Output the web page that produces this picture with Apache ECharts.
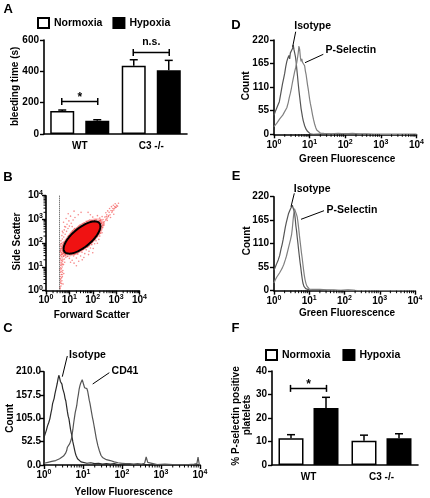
<!DOCTYPE html>
<html><head><meta charset="utf-8">
<script src="https://cdn.jsdelivr.net/npm/echarts@6/dist/echarts.min.js"></script>
<style>html,body{margin:0;padding:0;background:#fff}#c{width:430px;height:498px}</style>
</head><body><div id="c"></div>
<script>
const FONT = '"Liberation Sans", Arial, sans-serif';

// ---------- Panel A : bleeding time ----------
const groups = ['WT', 'C3 -/-'];
const bleedNormoxia = [147, 436];
const bleedNormoxiaSem = [6, 38];
const bleedHypoxia = [85, 407];
const bleedHypoxiaSem = [6, 63];
const bleedSig = [[0, 207, '*'], [1, 521, 'n.s.']];

// ---------- Panel F : % P-selectin positive platelets ----------
const pselNormoxia = [11.4, 10.3];
const pselNormoxiaSem = [1.5, 2.4];
const pselHypoxia = [24.3, 11.4];
const pselHypoxiaSem = [4.5, 1.9];
const pselSig = [[0, 32.6, '*']];

// ---------- Panel B : FSC / SSC (log10 decades) ----------
const bScatter = [
 [0.61,0.08],[0.64,0.2],[0.62,0.32],[0.68,0.42],[0.63,0.5],[0.7,0.6],[0.65,0.68],[0.62,0.78],[0.72,0.85],[0.66,0.92],
 [0.69,1.0],[0.63,1.06],[0.75,1.1],[0.67,1.18],[0.71,1.24],[0.64,1.3],[0.78,1.33],[0.69,1.38],[0.74,1.44],[0.62,1.48],
 [0.82,1.5],[0.7,1.54],[0.66,1.6],[0.77,1.62],[0.86,1.64],[0.63,1.68],[0.72,1.7],[0.81,1.74],[0.68,1.78],[0.9,1.76],
 [0.75,1.82],[0.64,1.86],[0.84,1.88],[0.7,1.92],[0.79,1.96],[0.66,2.0],[0.88,1.98],[0.73,2.04],[0.62,0.96],[0.67,0.55],
 [0.76,0.72],[0.8,1.2],[0.85,1.4],[0.92,1.58],[0.96,1.7],[0.6,1.2],[0.73,0.28],[0.66,1.44],
 [0.6,0.15],[0.63,0.38],[0.61,0.6],[0.65,0.82],[0.6,0.88],[0.64,1.12],[0.61,1.36],[0.65,1.52],[0.6,1.64],[0.63,1.76],
 [0.61,1.92],[0.67,0.3],[0.7,0.78],[0.68,1.08],[0.72,1.3],[0.74,1.58],[0.7,1.84],[0.78,1.9],[0.83,2.02],[0.76,1.46],
 [0.69,0.68],[0.62,0.45],[0.66,1.26],[0.71,1.12],[0.64,1.98],
 [0.64,2.1],[0.7,2.18],[0.76,2.26],[0.68,2.32],[0.82,2.38],[0.73,2.44],[0.88,2.5],[0.78,2.56],[0.94,2.62],[0.84,2.68],
 [1.0,2.72],[0.9,2.8],[1.08,2.84],[0.75,2.88],[0.98,2.94],[1.16,2.98],[0.86,3.04],[1.24,3.08],[1.05,3.14],[1.38,3.2],
 [0.95,3.24],[1.5,3.3],[1.2,3.35],[0.8,2.7],[1.12,2.7],[0.7,2.5],
 [0.92,1.44],[1.0,1.36],[1.06,1.52],[1.12,1.28],[1.18,1.46],[1.24,1.6],[1.3,1.38],[1.36,1.54],[1.42,1.68],[1.48,1.46],
 [1.54,1.62],[1.6,1.76],[1.66,1.56],[1.72,1.72],[1.78,1.84],[1.84,1.66],[1.9,1.8],[1.96,1.94],[2.02,1.78],[2.08,1.98],
 [2.14,2.1],[1.2,1.16],[1.4,1.24],[1.62,1.4],[1.82,1.52],[2.0,1.6],[1.05,1.2],[1.3,1.05],[1.55,1.3],[0.98,1.62],
 [1.14,1.7],[2.2,2.0],[2.26,2.16],[2.3,2.3],
 [0.9,2.2],[0.97,2.32],[1.05,2.42],[1.14,2.52],[1.22,2.62],[1.4,2.72],[1.5,2.78],[1.6,2.84],[1.76,2.9],[1.96,2.92],
 [2.12,2.92],[2.22,2.8],[2.3,2.62],[2.28,2.4],[2.2,2.28],[2.1,2.18],[2.0,2.08],[1.9,2.0],[1.7,1.86],[1.55,1.72],
 [1.45,1.66],[1.35,1.6],[1.25,1.56],[1.08,1.58],[0.95,1.6],[0.86,1.7],[0.82,1.82],[0.83,1.96],[0.88,2.08],
 [2.2,2.4],[2.28,2.5],[2.36,2.6],[2.3,2.7],[2.42,2.66],[2.16,2.28],[2.4,2.44],[2.48,2.76],[2.34,2.42],[2.24,2.62],
 [2.2,2.86],[2.28,2.94],[2.36,2.84],[2.44,3.0],[2.5,2.9],[2.52,3.1],[2.58,3.02],[2.6,3.2],[2.66,3.12],[2.7,3.3],
 [2.74,3.2],[2.78,3.38],[2.82,3.3],[2.86,3.46],[2.9,3.4],[2.94,3.54],[2.98,3.5],[3.02,3.6],[3.06,3.56],[3.1,3.68],
 [2.4,3.12],[2.3,3.06],[2.56,3.28],[2.64,3.36],[2.72,3.46],[2.8,3.54],[2.88,3.6],[2.96,3.66],[2.48,2.82],[2.62,2.96],
 [2.76,3.08],[2.9,3.22],[2.14,3.0],[2.2,3.16],[2.0,3.1],[1.9,3.2],[2.08,2.96],[1.8,3.3],
 [2.45,2.88],[2.55,2.98],[2.68,3.16],[2.84,3.36],[3.0,3.52],[2.58,3.12],[2.35,2.98],[2.42,2.76],[2.62,3.06],[2.92,3.46],
 [2.35,2.9],[2.38,2.84],[2.32,2.96],[2.26,2.92],[1.92,2.96],[1.86,2.98],[1.98,2.94],[1.8,2.94],[2.05,2.95],
 [1.24,2.6],[1.3,2.64],[1.18,2.56],[1.36,2.68],[1.12,2.5],[1.45,2.76],[1.55,2.82],[1.65,2.86],[1.72,2.92],
 [0.8,2.06],[0.76,2.0],[0.86,2.14],[0.94,2.28],[1.02,2.38],[1.08,2.46],[0.78,1.92],
 [0.75,1.6],[0.72,1.66],[0.76,1.74],[0.8,1.56],[0.84,1.52],
 [1.16,1.54],[1.22,1.52],[1.1,1.56],[1.3,1.56],[1.0,1.56],[1.4,1.62],[1.5,1.7],
 [1.8,1.86],[1.86,1.9],[1.74,1.84],[1.92,1.98],[1.68,1.8],[1.6,1.76],[1.98,2.04],
 [2.3,2.46],[2.24,2.36],[2.34,2.54],[2.14,2.24],[2.06,2.14],[2.38,2.7]
];
const gateCenter = [1.54, 2.24];     // decades (FSC, SSC)
const gateSemiAxes = [0.96, 0.40];   // decades
const gateAngleDeg = 39;
const fscThreshold = 0.57;           // decades

// ---------- Panel C : Yellow fluorescence histogram ([decade, count]) ----------
const cIsotype = [[0,62],[0.03,70],[0.06,78],[0.09,88],[0.12,95],[0.15,104],[0.18,118],[0.2,126],[0.22,138],[0.24,134],[0.26,150],[0.28,160],[0.3,168],[0.32,176],[0.34,184],[0.36,194],[0.38,202],[0.4,196],[0.42,188],[0.44,192],[0.46,182],[0.48,172],[0.5,176],[0.52,160],[0.54,150],[0.56,144],[0.58,132],[0.6,120],[0.62,110],[0.64,104],[0.66,92],[0.68,80],[0.7,72],[0.72,62],[0.74,52],[0.76,44],[0.78,36],[0.8,28],[0.82,22],[0.84,18],[0.86,14],[0.9,10],[0.95,7],[1.0,6],[1.1,4],[1.2,5],[1.3,3],[1.4,4],[1.5,2],[1.6,3],[1.7,2],[1.8,3],[1.9,1],[2.0,2],[2.2,1],[2.4,0],[2.6,1],[2.8,0],[3.0,0],[3.2,1],[3.5,0],[3.8,0],[4.0,0]];
const cCD41 = [[0,4],[0.1,6],[0.2,8],[0.3,10],[0.35,12],[0.4,14],[0.45,16],[0.5,20],[0.55,26],[0.58,32],[0.6,40],[0.62,36],[0.64,42],[0.66,48],[0.68,52],[0.7,58],[0.72,68],[0.74,80],[0.76,94],[0.78,106],[0.8,118],[0.82,126],[0.84,134],[0.86,148],[0.88,158],[0.9,170],[0.92,178],[0.94,184],[0.96,186],[0.98,192],[1.0,188],[1.02,180],[1.04,174],[1.06,178],[1.08,170],[1.1,172],[1.12,166],[1.14,156],[1.16,146],[1.18,138],[1.2,128],[1.22,118],[1.24,108],[1.26,100],[1.28,90],[1.3,80],[1.32,70],[1.34,60],[1.36,52],[1.38,44],[1.4,38],[1.42,32],[1.44,27],[1.46,22],[1.5,17],[1.55,14],[1.6,12],[1.7,10],[1.8,7],[1.9,5],[2.0,4],[2.1,3],[2.2,3],[2.3,2],[2.4,3],[2.5,2],[2.58,4],[2.62,18],[2.66,6],[2.7,2],[2.9,1],[3.1,2],[3.3,1],[3.5,1],[3.7,1],[3.85,2],[3.92,3],[3.95,18],[3.98,2],[4.0,0]];

// ---------- Panel D : Green fluorescence (hypoxia WT) ----------
const dIsotype = [[0,44],[0.03,52],[0.06,58],[0.09,62],[0.12,70],[0.15,76],[0.18,90],[0.21,104],[0.24,118],[0.27,130],[0.3,142],[0.33,158],[0.36,170],[0.39,178],[0.42,184],[0.44,176],[0.46,190],[0.48,194],[0.5,186],[0.52,200],[0.54,208],[0.56,198],[0.58,190],[0.6,182],[0.62,170],[0.64,152],[0.66,136],[0.68,118],[0.7,102],[0.72,88],[0.74,74],[0.76,60],[0.78,50],[0.8,40],[0.82,32],[0.84,26],[0.86,20],[0.9,12],[0.94,7],[0.98,3],[1.02,1],[1.1,0],[1.4,1],[1.7,0],[2.0,1],[2.3,0],[4.0,0]];
const dPSelectin = [[0,18],[0.04,22],[0.08,26],[0.12,30],[0.16,36],[0.2,40],[0.24,44],[0.28,50],[0.32,54],[0.36,62],[0.4,74],[0.43,86],[0.46,96],[0.49,108],[0.52,122],[0.55,134],[0.58,146],[0.61,156],[0.64,168],[0.66,178],[0.68,190],[0.7,206],[0.72,198],[0.74,180],[0.76,170],[0.78,176],[0.8,168],[0.82,172],[0.84,166],[0.86,160],[0.88,148],[0.9,140],[0.92,128],[0.94,116],[0.96,106],[0.98,94],[1.0,82],[1.02,72],[1.05,60],[1.08,46],[1.11,34],[1.14,24],[1.17,16],[1.2,10],[1.24,6],[1.3,3],[1.4,2],[1.6,1],[1.8,2],[2.0,1],[2.2,2],[2.4,1],[2.6,1],[2.8,0],[4.0,0]];

// ---------- Panel E : Green fluorescence (hypoxia C3 -/-) ----------
const eIsotype = [[0,48],[0.04,56],[0.08,64],[0.12,72],[0.16,82],[0.2,98],[0.23,108],[0.26,120],[0.29,134],[0.32,148],[0.35,160],[0.38,170],[0.41,180],[0.44,186],[0.47,192],[0.5,196],[0.52,200],[0.54,194],[0.56,198],[0.58,184],[0.6,170],[0.62,152],[0.64,140],[0.66,124],[0.68,110],[0.7,94],[0.72,80],[0.74,66],[0.76,54],[0.78,40],[0.8,28],[0.82,18],[0.85,10],[0.9,5],[0.95,3],[1.0,2],[1.2,1],[1.5,1],[1.8,0],[2.1,1],[2.4,0],[4.0,0]];
const ePSelectin = [[0,18],[0.04,26],[0.08,32],[0.12,36],[0.16,42],[0.2,48],[0.24,54],[0.28,62],[0.32,72],[0.35,80],[0.38,90],[0.41,100],[0.44,110],[0.47,120],[0.5,132],[0.52,146],[0.54,164],[0.56,180],[0.58,192],[0.6,196],[0.62,188],[0.64,178],[0.66,172],[0.68,160],[0.7,146],[0.72,130],[0.74,116],[0.76,102],[0.78,88],[0.8,76],[0.82,62],[0.84,48],[0.86,36],[0.88,26],[0.91,16],[0.94,10],[0.97,6],[1.0,4],[1.1,3],[1.3,3],[1.5,2],[1.7,2],[1.9,1],[2.1,2],[2.3,1],[2.6,0],[4.0,0]];

// ---------------- chart ----------------
const chart = echarts.init(document.getElementById('c'), null, {width:430, height:498});
const txt = (size) => ({fontFamily: FONT, fontWeight: 'bold', fontSize: size, color: '#000'});
const axisLine = {show: true, onZero: false, lineStyle: {color: '#000', width: 1.6}};
const axisTick = {show: true, inside: false, length: 4, lineStyle: {color: '#000', width: 1.4}};
const noSplit = {show: false};

const decadeRich = {
  b: {fontFamily: FONT, fontWeight: 'bold', fontSize: 10, color: '#000', lineHeight: 13},
  s: {fontFamily: FONT, fontWeight: 'bold', fontSize: 7, color: '#000', lineHeight: 7, verticalAlign: 'top'}
};
function decadeAxis(grid, margin) {
  return {type: 'value', gridIndex: grid, min: 0, max: 4, interval: 1, axisLine, axisTick, splitLine: noSplit,
    axisLabel: {margin: margin, formatter: v => '{b|10}{s|' + v + '}', rich: decadeRich, showMinLabel: true, showMaxLabel: true}};
}
function valueAxis(grid, max, interval, fmt, margin) {
  return {type: 'value', gridIndex: grid, min: 0, max: max, interval: interval, axisLine, axisTick, splitLine: noSplit,
    axisLabel: Object.assign({margin: margin, formatter: fmt, showMinLabel: true, showMaxLabel: true}, txt(10))};
}
function catAxis(grid) {
  return {type: 'category', gridIndex: grid, data: groups, axisLine, axisTick: {show: false}, splitLine: noSplit,
    axisLabel: Object.assign({margin: 7}, txt(10))};
}

// minor ticks for log-decade axes
const minorTickValues = [];
for (let d = 0; d < 4; d++) for (let k = 2; k <= 9; k++) minorTickValues.push(d + Math.log10(k));
function minorTicks(idx, dir) {
  return {type: 'custom', xAxisIndex: idx, yAxisIndex: idx, silent: true, clip: false, z: 6,
    data: minorTickValues.map(v => dir === 'x' ? [v, 0] : [0, v]),
    renderItem: (p, api) => {
      const pt = api.coord([api.value(0), api.value(1)]);
      const shape = dir === 'x' ? {x1: pt[0], y1: pt[1], x2: pt[0], y2: pt[1] + 2.5}
                                : {x1: pt[0] - 2.5, y1: pt[1], x2: pt[0], y2: pt[1]};
      return {type: 'line', shape, style: {stroke: '#000', lineWidth: 1}};
    }};
}
function errSeries(idx, means, sems, side, offset) {
  return {type: 'custom', xAxisIndex: idx, yAxisIndex: idx, z: 4, clip: false, silent: true,
    data: means.map((m, i) => [i, m, m + sems[i]]),
    renderItem: (p, api) => {
      const base = api.coord([api.value(0), api.value(1)]);
      const top = api.coord([api.value(0), api.value(2)]);
      const x = base[0] + side * offset;
      return {type: 'group', children: [
        {type: 'line', shape: {x1: x, y1: base[1], x2: x, y2: top[1]}, style: {stroke: '#000', lineWidth: 1.5}},
        {type: 'line', shape: {x1: x - 4, y1: top[1], x2: x + 4, y2: top[1]}, style: {stroke: '#000', lineWidth: 1.5}}
      ]};
    }};
}
function sigSeries(idx, sig, offset) {
  return {type: 'custom', xAxisIndex: idx, yAxisIndex: idx, z: 4, clip: false, silent: true,
    data: sig.map(s => [s[0], s[1]]),
    renderItem: (p, api) => {
      const c = api.coord([api.value(0), api.value(1)]);
      const label = sig[p.dataIndex][2];
      const x1 = c[0] - offset, x2 = c[0] + offset, y = c[1];
      const ty = label === '*' ? y - 4 : y - 10;
      return {type: 'group', children: [
        {type: 'line', shape: {x1, y1: y, x2, y2: y}, style: {stroke: '#000', lineWidth: 1.5}},
        {type: 'line', shape: {x1, y1: y - 3.5, x2: x1, y2: y + 3.5}, style: {stroke: '#000', lineWidth: 1.5}},
        {type: 'line', shape: {x1: x2, y1: y - 3.5, x2: x2, y2: y + 3.5}, style: {stroke: '#000', lineWidth: 1.5}},
        {type: 'text', x: c[0], y: ty, style: {text: label, font: 'bold ' + (label === '*' ? 12 : 10.5) + 'px ' + FONT,
          fill: '#000', align: 'center', verticalAlign: 'middle', textAlign: 'center', textVerticalAlign: 'middle'}}
      ]};
    }};
}
function ellipseSeries(scale, fill, stroke, z) {
  return {type: 'custom', xAxisIndex: 1, yAxisIndex: 1, z: z, silent: true, clip: false,
    data: [[gateCenter[0], gateCenter[1], gateSemiAxes[0], gateSemiAxes[1], gateAngleDeg]],
    renderItem: (p, api) => {
      const cx = api.value(0), cy = api.value(1), a = api.value(2) * scale, b = api.value(3) * scale;
      const th = api.value(4) * Math.PI / 180;
      const pts = [];
      for (let i = 0; i < 90; i++) {
        const t = i / 90 * 2 * Math.PI;
        const x = cx + a * Math.cos(t) * Math.cos(th) - b * Math.sin(t) * Math.sin(th);
        const y = cy + a * Math.cos(t) * Math.sin(th) + b * Math.sin(t) * Math.cos(th);
        pts.push(api.coord([x, y]));
      }
      return {type: 'polygon', shape: {points: pts},
        style: {fill: fill, stroke: stroke || null, lineWidth: stroke ? 2 : 0}};
    }};
}
function hist(idx, data, color) {
  return {type: 'line', xAxisIndex: idx, yAxisIndex: idx, data: data, showSymbol: false, symbol: 'none',
    lineStyle: {color: color, width: 1.2}, z: 3, silent: true, animation: false};
}

const legendBase = {orient: 'horizontal', itemWidth: 11, itemHeight: 10, selectedMode: false,
  data: [{name: 'Normoxia', icon: 'rect'}, {name: 'Hypoxia', icon: 'rect'}],
  textStyle: Object.assign({padding: 0}, txt(10.5))};

const option = {
  animation: false,
  backgroundColor: '#fff',
  grid: [
    {left: 44, top: 40, width: 143, height: 94},
    {left: 46, top: 195.7, width: 93.5, height: 95},
    {left: 44, top: 371.7, width: 156, height: 93.3},
    {left: 274, top: 40, width: 142.5, height: 94.3},
    {left: 274, top: 196.7, width: 141, height: 94},
    {left: 272, top: 371, width: 146, height: 94}
  ],
  legend: [
    Object.assign({}, legendBase, {left: 32, top: 12, itemGap: 10}),
    Object.assign({}, legendBase, {left: 260, top: 344, itemGap: 12})
  ],
  xAxis: [catAxis(0), decadeAxis(1, 3), decadeAxis(2, 4), decadeAxis(3, 4), decadeAxis(4, 4), catAxis(5)],
  yAxis: [
    valueAxis(0, 600, 200, v => v, 5),
    decadeAxis(1, 3),
    valueAxis(2, 210, 52.5, v => v.toFixed(1), 3),
    valueAxis(3, 220, 55, v => v, 5),
    valueAxis(4, 220, 55, v => v, 5),
    valueAxis(5, 40, 10, v => v, 5)
  ],
  series: [
    // A
    {type: 'bar', name: 'Normoxia', xAxisIndex: 0, yAxisIndex: 0, data: bleedNormoxia, barWidth: 24, barGap: '46%',
      itemStyle: {color: '#fff', borderColor: '#000', borderWidth: 1.5}},
    {type: 'bar', name: 'Hypoxia', xAxisIndex: 0, yAxisIndex: 0, data: bleedHypoxia, barWidth: 24, barGap: '46%',
      itemStyle: {color: '#000', borderColor: '#000', borderWidth: 1.5}},
    errSeries(0, bleedNormoxia, bleedNormoxiaSem, -1, 17.5),
    errSeries(0, bleedHypoxia, bleedHypoxiaSem, 1, 17.5),
    sigSeries(0, bleedSig, 18),
    // F
    {type: 'bar', name: 'Normoxia', xAxisIndex: 5, yAxisIndex: 5, data: pselNormoxia, barWidth: 25, barGap: '40%',
      itemStyle: {color: '#fff', borderColor: '#000', borderWidth: 1.5}},
    {type: 'bar', name: 'Hypoxia', xAxisIndex: 5, yAxisIndex: 5, data: pselHypoxia, barWidth: 25, barGap: '40%',
      itemStyle: {color: '#000', borderColor: '#000', borderWidth: 1.5}},
    errSeries(5, pselNormoxia, pselNormoxiaSem, -1, 17.5),
    errSeries(5, pselHypoxia, pselHypoxiaSem, 1, 17.5),
    sigSeries(5, pselSig, 18),
    // B
    ellipseSeries(1.2, 'rgba(255,90,90,0.35)', null, 1),
    {type: 'scatter', xAxisIndex: 1, yAxisIndex: 1, data: bScatter, symbolSize: 1.6, silent: true, z: 2,
      itemStyle: {color: 'rgba(240,30,30,0.65)'},
      markLine: {silent: true, symbol: 'none', label: {show: false},
        lineStyle: {type: 'dotted', color: '#444', width: 1}, data: [{xAxis: fscThreshold}]}},
    ellipseSeries(1, '#f01212', '#000', 3),
    minorTicks(1, 'x'), minorTicks(1, 'y'),
    // C
    hist(2, cIsotype, '#2a2a2a'), hist(2, cCD41, '#555'), minorTicks(2, 'x'),
    // D
    hist(3, dIsotype, '#555'), hist(3, dPSelectin, '#808080'), minorTicks(3, 'x'),
    // E
    hist(4, eIsotype, '#555'), hist(4, ePSelectin, '#808080'), minorTicks(4, 'x')
  ]
};
chart.setOption(option);

// ---- text annotations (titles, panel letters, histogram labels) ----
function T(text, x, y, size, rot) {
  return {type: 'text', x: x, y: y, rotation: rot ? Math.PI / 2 : 0, z: 10,
    style: {text: text, font: 'bold ' + size + 'px ' + FONT, fill: '#000',
      align: 'center', verticalAlign: 'middle', textAlign: 'center', textVerticalAlign: 'middle'}};
}
function L(x1, y1, x2, y2) {
  return {type: 'line', z: 10, shape: {x1, y1, x2, y2}, style: {stroke: '#000', lineWidth: 1}};
}
chart.setOption({graphic: {elements: [
  T('A', 8.3, 9.5, 13), T('B', 8, 177.5, 13), T('C', 8, 328.3, 13),
  T('D', 236, 25, 13), T('E', 236, 176, 13), T('F', 235.5, 328.3, 13),
  T('bleeding time (s)', 15, 86.3, 10, true),
  T('Side Scatter', 17.3, 241.5, 10, true), T('Forward Scatter', 91.7, 315.5, 10),
  T('Count', 10, 418.3, 10, true), T('Yellow Fluorescence', 123.7, 492, 10),
  T('Count', 246.7, 85.8, 10, true), T('Green Fluorescence', 347.2, 159.2, 10),
  T('Count', 247, 240.8, 10, true), T('Green Fluorescence', 347, 313.5, 10),
  T('% P-selectin positive', 236.5, 416, 10, true), T('platelets', 247.5, 415, 10, true),
  T('Isotype', 87.5, 354.7, 10.5), L(67.3, 356, 62.3, 376.7),
  T('CD41', 125, 370.8, 10.5), L(109.3, 372.7, 92.7, 384),
  T('Isotype', 312.7, 26.2, 10.5), L(295.7, 31.7, 292.7, 46.7),
  T('P-Selectin', 350.8, 50.5, 10.5), L(323.3, 54.3, 305, 62.7),
  T('Isotype', 312.2, 188.7, 10.5), L(294.3, 193.3, 291, 206.7),
  T('P-Selectin', 352, 209.7, 10.5), L(324, 210.7, 301, 219.3)
]}});
</script></body></html>
